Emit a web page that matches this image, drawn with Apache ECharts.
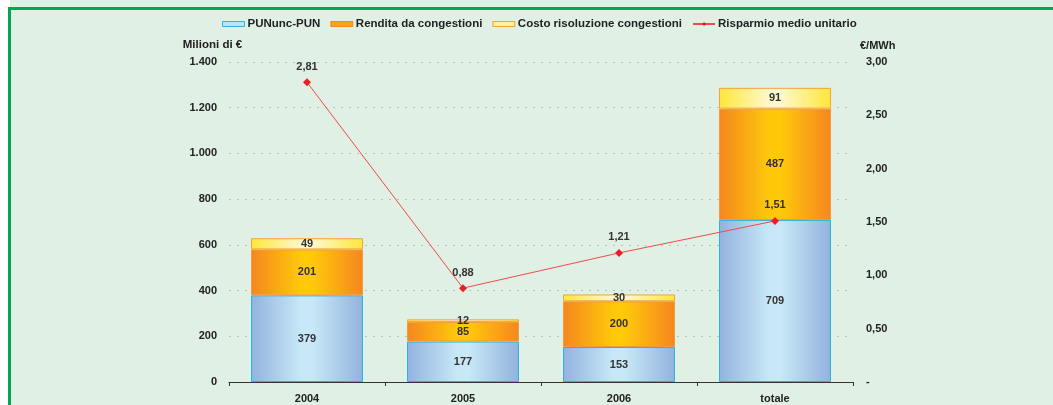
<!DOCTYPE html>
<html><head><meta charset="utf-8">
<script src="https://cdn.jsdelivr.net/npm/echarts@6/dist/echarts.min.js"></script>
<style>
html,body{margin:0;padding:0;background:#fff;}
#wrap{position:relative;width:1053px;height:405px;background:#fff;overflow:hidden;}
#bg{position:absolute;left:10px;top:0;width:1043px;height:405px;background:#e1f0e5;}
#topline{position:absolute;left:8px;top:7px;width:1045px;height:3px;background:#00a650;}
#leftline{position:absolute;left:8px;top:7px;width:3px;height:398px;background:#00a650;}
#chart{position:absolute;left:0;top:0;width:1053px;height:405px;}
</style></head>
<body><div id="wrap"><div id="bg"></div><div id="topline"></div><div id="leftline"></div><div id="chart"></div></div>
<script>
const categories = ['2004','2005','2006','totale'];
const punUnc = [379,177,153,709];
const rendita = [201,85,200,487];
const costo = [49,12,30,91];
const risparmio = [2.81,0.88,1.21,1.51];
const seriesNames = ['PUNunc-PUN','Rendita da congestioni','Costo risoluzione congestioni','Risparmio medio unitario'];

const FONT = 'Liberation Sans';
function hGrad(edge, mid){
  return new echarts.graphic.LinearGradient(0,0,1,0,[
    {offset:0,color:edge},{offset:0.45,color:mid},{offset:0.55,color:mid},{offset:1,color:edge}]);
}
const blueFill = hGrad('#92b2dd','#c8e8f8');
const orangeFill = hGrad('#f5861f','#ffc90a');
const yellowFill = hGrad('#ffe63a','#fff8cc');
const lbl = {show:true,position:'inside',color:'#333',fontFamily:FONT,fontWeight:'bold',fontSize:11};

const chart = echarts.init(document.getElementById('chart'),null,{renderer:'canvas'});
chart.setOption({
  backgroundColor:'transparent',
  animation:false,
  textStyle:{fontFamily:FONT},
  legend:{
    top:13,left:217,itemWidth:22,itemHeight:5,itemGap:10,
    textStyle:{fontFamily:FONT,fontWeight:'bold',fontSize:11.5,color:'#222',padding:[0,0,0,-2]},
    data:[
      {name:seriesNames[0],icon:'rect',itemStyle:{color:'#bfe3f6',borderColor:'#2ab4e4',borderWidth:1}},
      {name:seriesNames[1],icon:'rect',itemStyle:{color:'#f7a21c',borderColor:'#f58a1f',borderWidth:1}},
      {name:seriesNames[2],icon:'rect',itemStyle:{color:'#fff2a0',borderColor:'#f5a21f',borderWidth:1}},
      {name:seriesNames[3]}
    ]
  },
  grid:{left:229,right:200,top:62,bottom:23,containLabel:false},
  xAxis:{
    type:'category',data:categories,boundaryGap:true,
    axisLine:{lineStyle:{color:'#333',width:1}},
    axisTick:{show:true,length:4,lineStyle:{color:'#333'}},
    axisLabel:{color:'#222',fontFamily:FONT,fontWeight:'bold',fontSize:11,margin:11}
  },
  yAxis:[
    {type:'value',min:0,max:1400,interval:200,name:'Milioni di €',
     nameLocation:'end',nameGap:11,nameTextStyle:{color:'#222',fontFamily:FONT,fontWeight:'bold',fontSize:11.5,align:'center',padding:[0,0,0,-33]},
     axisLine:{show:false},axisTick:{show:false},
     axisLabel:{color:'#222',fontFamily:FONT,fontWeight:'bold',fontSize:11,margin:12,
       formatter:v=>String(v).replace(/\B(?=(\d{3})+(?!\d))/g,'.')},
     splitLine:{show:true,lineStyle:{color:'#b7c4bd',type:[2,6],width:1}}},
    {type:'value',min:0,max:3,interval:0.5,name:'€/MWh',
     nameLocation:'end',nameGap:11,nameTextStyle:{color:'#222',fontFamily:FONT,fontWeight:'bold',fontSize:11,align:'left',padding:[0,0,0,7]},
     axisLine:{show:false},axisTick:{show:false},
     axisLabel:{color:'#222',fontFamily:FONT,fontWeight:'bold',fontSize:11,margin:13,
       formatter:v=>v===0?'-':v.toFixed(2).replace('.',',')},
     splitLine:{show:false}}
  ],
  series:[
    {name:seriesNames[0],type:'bar',stack:'a',barWidth:112,data:punUnc,
     itemStyle:{color:blueFill,borderColor:'#2ab4e4',borderWidth:1},label:lbl},
    {name:seriesNames[1],type:'bar',stack:'a',barWidth:112,data:rendita,
     itemStyle:{color:orangeFill,borderColor:'#f59a3a',borderWidth:1},label:lbl},
    {name:seriesNames[2],type:'bar',stack:'a',barWidth:112,data:costo,
     itemStyle:{color:yellowFill,borderColor:'#f5a23a',borderWidth:1},label:lbl},
    {name:seriesNames[3],type:'line',yAxisIndex:1,data:risparmio,
     symbol:'diamond',symbolSize:8,z:10,
     lineStyle:{color:'#ef4a4a',width:1},itemStyle:{color:'#ee1c24'},
     label:{show:true,position:'top',distance:6,color:'#333',fontFamily:FONT,fontWeight:'bold',fontSize:11,
       formatter:p=>p.value.toFixed(2).replace('.',',')}}
  ]
});
</script></body></html>
